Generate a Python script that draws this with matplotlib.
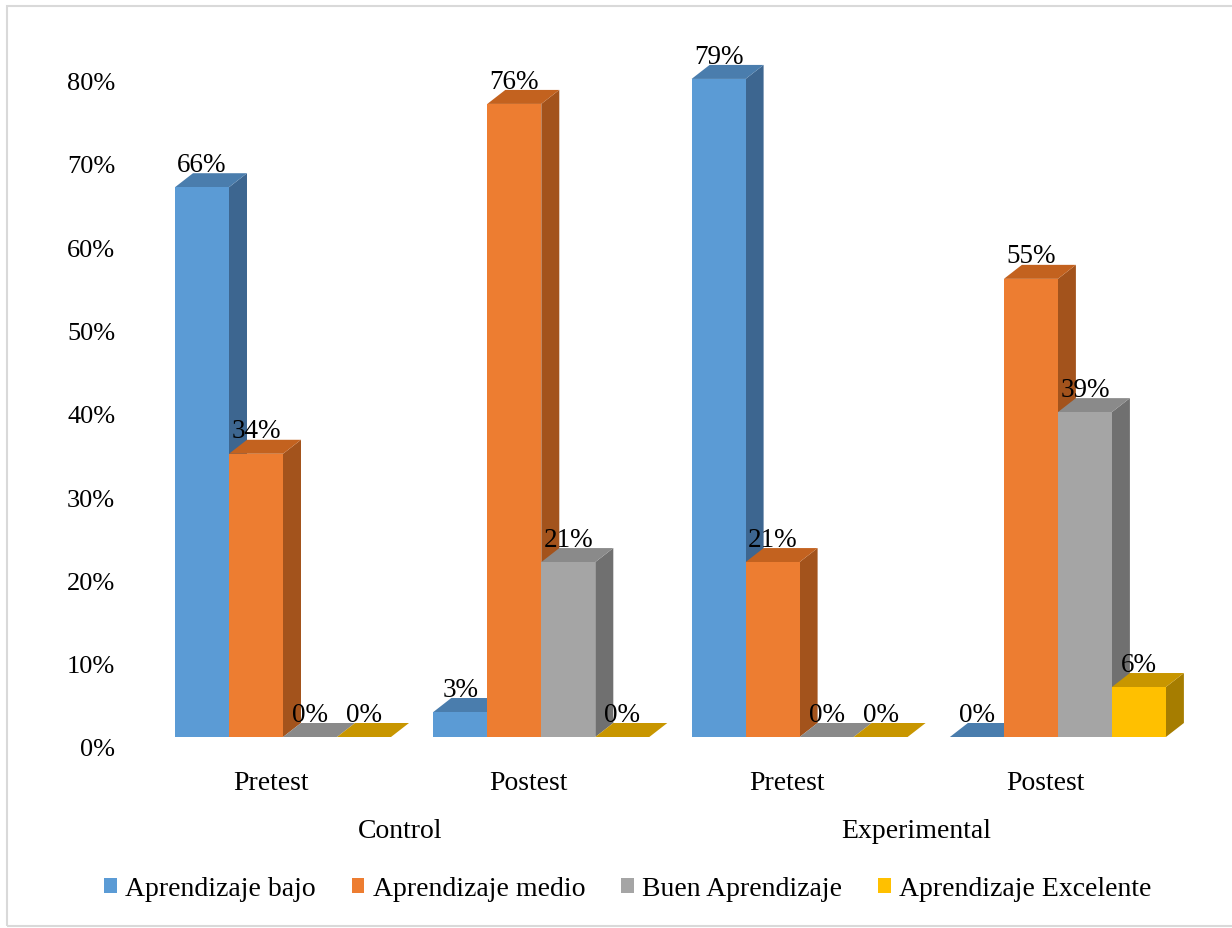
import matplotlib
matplotlib.use("Agg")
import matplotlib.pyplot as plt
from matplotlib.patches import Polygon, Rectangle, Patch
from matplotlib.transforms import ScaledTranslation

plt.rcParams["font.family"] = ["Liberation Serif", "DejaVu Serif"]

groups = ["Control", "Experimental"]
tests = ["Pretest", "Postest", "Pretest", "Postest"]
series = ["Aprendizaje bajo", "Aprendizaje medio", "Buen Aprendizaje", "Aprendizaje Excelente"]
bajo = [66, 3, 79, 0]
medio = [34, 76, 21, 55]
buen = [0, 21, 0, 39]
excelente = [0, 0, 0, 6]
values = [bajo, medio, buen, excelente]

# front, top and side shades of each series
front = ["#5B9BD5", "#ED7D31", "#A5A5A5", "#FFC000"]
top = ["#4A7DAD", "#C3621F", "#8A8A8A", "#C89600"]
side = ["#3D6690", "#A3531C", "#707070", "#A67D00"]

W, H = 1232, 929
fig = plt.figure(figsize=(W / 100, H / 100), dpi=100)

# chart frame (right edge runs past the image)
fig.patches.append(Rectangle((7 / W, 2 / H), (W + 10) / W, (H - 9) / H,
                             transform=fig.transFigure, fill=False,
                             edgecolor="#D9D9D9", lw=1.5))

bar_px = 54.0
px_per_pct = 8.33
gstride = 258.3 / bar_px
xmax = 3 * gstride + 4
ax = fig.add_axes([175 / W, (H - 738) / H, xmax * bar_px / W, 80 * px_per_pct / H])
ax.set_xlim(0, xmax)
ax.set_ylim(0, 80)
for s in ax.spines.values():
    s.set_visible(False)
ax.set_xticks([])
ax.set_yticks(range(0, 81, 10))
ax.set_yticklabels([f"{v}%" for v in range(0, 81, 10)], fontsize=19)
ax.tick_params(axis="y", length=0, pad=43)
for lab in ax.get_yticklabels():
    lab.set_transform(lab.get_transform() + ScaledTranslation(0, -0.10, fig.dpi_scale_trans))

dx = 18 / bar_px
dy = 14 / px_per_pct

for g in range(len(tests)):
    for i in range(len(series)):
        v = values[i][g]
        x0 = g * gstride + i
        x1 = x0 + 1
        if v > 0:
            ax.add_patch(Polygon([(x1, 0), (x1 + dx, dy), (x1 + dx, v + dy), (x1, v)],
                                 closed=True, fc=side[i], ec="none", clip_on=False))
        ax.add_patch(Polygon([(x0, v), (x1, v), (x1 + dx, v + dy), (x0 + dx, v + dy)],
                             closed=True, fc=top[i], ec="none", clip_on=False))
        if v > 0:
            ax.add_patch(Rectangle((x0, 0), 1, v, fc=front[i], ec="none", clip_on=False))
        ax.annotate(f"{v}%", (x0 + 0.5, v), xytext=(0, 16.5), textcoords="offset points",
                    ha="center", va="center", fontsize=19.5, annotation_clip=False)

# category and group labels below the bars
for g, name in enumerate(tests):
    cx = g * gstride + 2
    ax.annotate(name, (cx, 0), xytext=(-9, -33), textcoords="offset points",
                ha="center", va="center", fontsize=20, annotation_clip=False)
for k, name in enumerate(groups):
    cx = (2 * k + 0.5) * gstride + 2
    ax.annotate(name, (cx, 0), xytext=(-9, -67.5), textcoords="offset points",
                ha="center", va="center", fontsize=20, annotation_clip=False)

handles = [Patch(fc=c, ec="none") for c in front]
fig.legend(handles, series, loc="center", bbox_to_anchor=(628 / W, (H - 890) / H), ncol=4,
           frameon=False, fontsize=20, handlelength=0.45, handleheight=0.45,
           handletextpad=0.3, columnspacing=1.3)

fig.savefig("out.png", dpi=100)
